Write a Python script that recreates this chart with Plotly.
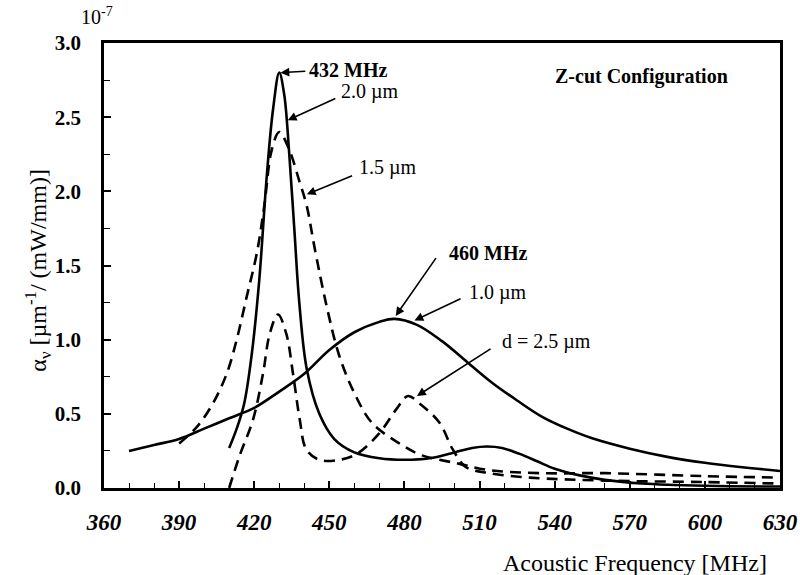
import plotly.graph_objects as go

# ---- data (values in units of 1e-7) ----
f_10 = [370, 380, 390, 400, 410, 420, 430, 440, 450, 460, 470, 476, 485, 495,
        505, 515, 525, 535, 545, 555, 570, 585, 600, 615, 630]
a_10 = [0.25, 0.29, 0.33, 0.40, 0.47, 0.54, 0.65, 0.77, 0.93, 1.05, 1.12, 1.14,
        1.10, 0.99, 0.85, 0.71, 0.59, 0.48, 0.40, 0.335, 0.265, 0.21, 0.17, 0.14, 0.115]

f_20 = [410, 413, 416, 419, 422, 425, 427.5, 430, 432, 434, 436, 438, 441, 446,
        452, 460, 470, 480, 490, 500, 507, 513, 519, 526, 533, 540, 550, 560, 575, 600, 630]
a_20 = [0.27, 0.40, 0.57, 0.90, 1.40, 2.10, 2.55, 2.80, 2.65, 2.25, 1.75, 1.25,
        0.80, 0.50, 0.33, 0.24, 0.20, 0.19, 0.20, 0.24, 0.27, 0.28, 0.27, 0.23,
        0.18, 0.13, 0.085, 0.055, 0.03, 0.015, 0.01]

f_15 = [390, 397, 403.5, 409, 413, 417, 421, 424, 427, 430, 434, 438, 441, 444,
        449, 454, 460, 467, 478, 487, 500, 514, 534, 560, 600, 630]
a_15 = [0.30, 0.41, 0.57, 0.77, 1.00, 1.29, 1.58, 1.90, 2.28, 2.40, 2.28, 2.07,
        1.90, 1.63, 1.22, 0.89, 0.64, 0.44, 0.30, 0.22, 0.17, 0.12, 0.10, 0.10,
        0.08, 0.07]

f_25 = [410, 414, 419.5, 423.5, 426.2, 429.5, 432.8, 435.5, 438.2, 440.8, 446,
        454, 461, 470, 476.7, 481.4, 486, 494, 499.3, 504.6, 514, 530, 560, 600, 630]
a_25 = [0.00, 0.21, 0.46, 0.77, 1.04, 1.17, 1.04, 0.77, 0.46, 0.26, 0.19, 0.19,
        0.23, 0.37, 0.53, 0.62, 0.57, 0.44, 0.26, 0.14, 0.10, 0.07, 0.05, 0.04, 0.03]

x_ticks = [360, 390, 420, 450, 480, 510, 540, 570, 600, 630]
y_ticks = [0.0, 0.5, 1.0, 1.5, 2.0, 2.5, 3.0]

SERIF = "Liberation Serif, Times New Roman, serif"

fig = go.Figure()
line_solid = dict(color="black", width=2.6)
line_dash = dict(color="black", width=2.6, dash="11px,7px")

fig.add_trace(go.Scatter(x=f_10, y=a_10, mode="lines", line=dict(line_solid, shape="spline"), name="1.0 µm"))
fig.add_trace(go.Scatter(x=f_20, y=a_20, mode="lines", line=dict(line_solid, shape="spline"), name="2.0 µm"))
fig.add_trace(go.Scatter(x=f_15, y=a_15, mode="lines", line=dict(line_dash, shape="spline"), name="1.5 µm"))
fig.add_trace(go.Scatter(x=f_25, y=a_25, mode="lines", line=dict(line_dash, shape="spline"), name="2.5 µm"))

ann = []

def label(text, x, y, size=20, bold=False):
    ann.append(dict(x=x, y=y, xref="x", yref="y", text=text, showarrow=False,
                    xanchor="left", yanchor="middle",
                    font=dict(family=SERIF, size=size, color="black",
                              weight="bold" if bold else "normal")))

def arrow(x0, y0, x1, y1):
    ann.append(dict(x=x1, y=y1, ax=x0, ay=y0, xref="x", yref="y", axref="x", ayref="y",
                    text="", showarrow=True, arrowhead=2, arrowsize=1.1,
                    arrowwidth=1.6, arrowcolor="black"))

label("432 MHz", 441, 2.82, bold=True)
arrow(441, 2.81, 430.5, 2.80)
label("2.0 µm", 454, 2.67)
arrow(453, 2.63, 433.4, 2.48)
label("1.5 µm", 461, 2.16)
arrow(459.7, 2.11, 441, 1.98)
label("460 MHz", 497, 1.585, bold=True)
arrow(493, 1.56, 476.5, 1.16)
label("1.0 µm", 505, 1.32)
arrow(503, 1.28, 484, 1.13)
label("d = 2.5 µm", 518, 0.985)
arrow(515, 0.944, 485, 0.62)

ann.append(dict(x=0.795, y=0.925, xref="paper", yref="paper", text="Z-cut Configuration",
                showarrow=False, xanchor="center", yanchor="middle",
                font=dict(family=SERIF, size=20, color="black", weight="bold")))
ann.append(dict(x=-0.010, y=1.03, xref="paper", yref="paper", text="10<sup>-7</sup>",
                showarrow=False, xanchor="center", yanchor="bottom",
                font=dict(family=SERIF, size=20, color="black")))
ann.append(dict(x=-0.098, y=0.49, xref="paper", yref="paper",
                text="α<sub>ν</sub> [µm<sup>-1</sup>/ (mW/mm)]", textangle=-90,
                showarrow=False, xanchor="center", yanchor="middle",
                font=dict(family=SERIF, size=24, color="black")))
ann.append(dict(x=0.786, y=-0.169, xref="paper", yref="paper",
                text="Acoustic Frequency [MHz]",
                showarrow=False, xanchor="center", yanchor="middle",
                font=dict(family=SERIF, size=24, color="black")))

fig.update_layout(
    width=800, height=575,
    margin=dict(l=104, r=20, t=43, b=87, autoexpand=False),
    paper_bgcolor="white", plot_bgcolor="white",
    showlegend=False,
    annotations=ann,
    xaxis=dict(range=[360, 630], tickvals=x_ticks, ticktext=[str(v) for v in x_ticks],
               ticks="inside", ticklen=7, tickwidth=1.5, tickcolor="black",
               minor=dict(dtick=10, tick0=360, ticks="inside", ticklen=5, tickwidth=1.2, tickcolor="black"),
               showline=True, linecolor="black", linewidth=2.5, mirror=True,
               showgrid=False, zeroline=False, automargin=False, ticklabelstandoff=12,
               tickfont=dict(family=SERIF, size=23, color="black", weight="bold", style="italic")),
    yaxis=dict(range=[0, 3.0], tickvals=y_ticks, ticktext=[f"{v:.1f}" for v in y_ticks],
               ticks="inside", ticklen=7, tickwidth=1.5, tickcolor="black",
               minor=dict(dtick=0.25, tick0=0, ticks="inside", ticklen=6, tickwidth=1.2, tickcolor="black"),
               showline=True, linecolor="black", linewidth=2.5, mirror=True,
               showgrid=False, zeroline=False, automargin=False, ticklabelstandoff=16,
               tickfont=dict(family=SERIF, size=21, color="black", weight="bold")),
)

fig.write_html("out.html", config={"displayModeBar": False},
               post_script="document.body.style.margin='0';document.body.style.overflow='hidden';")
